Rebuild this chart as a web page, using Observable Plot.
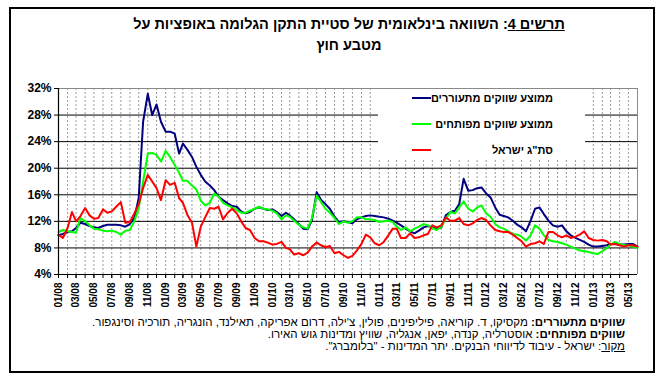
<!DOCTYPE html>
<html><head><meta charset="utf-8">
<script src="https://cdn.jsdelivr.net/npm/d3@7"></script>
<script src="https://cdn.jsdelivr.net/npm/@observablehq/plot@0.6"></script>
<style>
body{margin:0;background:#fff;width:666px;height:392px;position:relative;overflow:hidden;font-family:"Liberation Sans",Arial,"DejaVu Sans",sans-serif;color:#000;}
#frame{position:absolute;left:9px;top:7px;width:642px;height:362px;border:2px solid #000;}
.title{position:absolute;left:0;width:698px;text-align:center;direction:rtl;font-weight:bold;font-size:14.5px;white-space:nowrap;}
#chart{position:absolute;left:0;top:70px;}
#legend{position:absolute;left:378px;top:89px;width:207px;height:70px;background:#fff;}
.lrow{position:absolute;left:0;width:207px;height:16px;}
.ltext{position:absolute;right:32px;top:0;direction:rtl;font-weight:bold;font-size:11px;line-height:16px;white-space:nowrap;}
.lline{position:absolute;left:34px;top:7px;width:19px;height:2px;}
.note{position:absolute;right:41px;direction:rtl;font-size:11.5px;line-height:12px;height:12px;white-space:nowrap;}
</style></head><body>
<div id="frame"></div>
<div class="title" style="top:16px"><u>תרשים 4</u>: השוואה בינלאומית של סטיית התקן הגלומה באופציות על</div>
<div class="title" style="top:37px">מטבע חוץ</div>
<div id="chart"></div>
<div id="legend"></div>
<div class="note" id="n1" style="top:316px"></div>
<div class="note" id="n2" style="top:328px"></div>
<div class="note" id="n3" style="top:340px"></div>
<script>
// semi-monthly observation dates
const dates = [
"2008-01-01","2008-01-16","2008-02-01","2008-02-16","2008-03-01","2008-03-16","2008-04-01","2008-04-16","2008-05-01","2008-05-16","2008-06-01","2008-06-16","2008-07-01","2008-07-16","2008-08-01","2008-08-16","2008-09-01","2008-09-16","2008-10-01","2008-10-16","2008-11-01","2008-11-16","2008-12-01","2008-12-16",
"2009-01-01","2009-01-16","2009-02-01","2009-02-16","2009-03-01","2009-03-16","2009-04-01","2009-04-16","2009-05-01","2009-05-16","2009-06-01","2009-06-16","2009-07-01","2009-07-16","2009-08-01","2009-08-16","2009-09-01","2009-09-16","2009-10-01","2009-10-16","2009-11-01","2009-11-16","2009-12-01","2009-12-16",
"2010-01-01","2010-01-16","2010-02-01","2010-02-16","2010-03-01","2010-03-16","2010-04-01","2010-04-16","2010-05-01","2010-05-16","2010-06-01","2010-06-16","2010-07-01","2010-07-16","2010-08-01","2010-08-16","2010-09-01","2010-09-16","2010-10-01","2010-10-16","2010-11-01","2010-11-16","2010-12-01","2010-12-16",
"2011-01-01","2011-01-16","2011-02-01","2011-02-16","2011-03-01","2011-03-16","2011-04-01","2011-04-16","2011-05-01","2011-05-16","2011-06-01","2011-06-16","2011-07-01","2011-07-16","2011-08-01","2011-08-16","2011-09-01","2011-09-16","2011-10-01","2011-10-16","2011-11-01","2011-11-16","2011-12-01","2011-12-16",
"2012-01-01","2012-01-16","2012-02-01","2012-02-16","2012-03-01","2012-03-16","2012-04-01","2012-04-16","2012-05-01","2012-05-16","2012-06-01","2012-06-16","2012-07-01","2012-07-16","2012-08-01","2012-08-16","2012-09-01","2012-09-16","2012-10-01","2012-10-16","2012-11-01","2012-11-16","2012-12-01","2012-12-16",
"2013-01-01","2013-01-16","2013-02-01","2013-02-16","2013-03-01","2013-03-16","2013-04-01","2013-04-16","2013-05-01","2013-05-16","2013-06-01"
];
// ממוצע שווקים מתעוררים
const emerging = [
9.9,10.1,10.4,10.5,11.0,11.8,11.6,11.3,11.1,11.0,
11.3,11.5,11.5,11.5,11.4,11.2,11.6,12.5,15.5,27.0,
31.2,28.0,29.6,27.0,25.5,25.5,25.2,22.2,23.7,22.8,
21.7,20.2,19.0,18.0,17.4,16.7,15.7,15.2,14.7,14.3,
14.2,13.5,13.2,13.4,13.9,14.1,13.9,13.7,13.8,13.4,
12.8,13.3,12.9,12.3,11.6,10.9,10.8,12.2,16.4,15.2,
14.6,13.9,12.7,11.9,12.0,11.9,11.7,12.3,12.6,12.8,
12.9,12.8,12.7,12.6,12.4,12.1,11.8,11.4,10.9,10.5,
10.2,10.6,11.1,11.3,11.1,10.9,11.1,12.9,13.4,13.6,
14.6,18.4,16.6,16.7,17.0,17.1,16.2,15.6,14.1,13.0,
12.8,12.6,12.1,11.5,11.1,10.5,12.1,13.9,14.1,13.1,
12.1,11.4,11.2,11.4,10.5,9.9,9.5,9.2,8.9,8.5,
8.2,8.2,8.3,8.4,8.6,8.6,8.5,8.5,8.6,8.6,8.2
];
// ממוצע שווקים מפותחים
const developed = [
10.4,10.7,10.5,10.4,10.3,12.5,12.0,11.4,10.9,10.8,
10.6,10.5,10.6,10.4,10.0,10.6,10.7,12.0,14.0,18.0,
22.2,22.3,22.0,21.0,22.6,21.7,20.5,19.3,18.1,18.1,
17.4,16.8,15.1,14.4,14.8,16.2,15.7,14.8,14.4,14.1,
13.7,13.3,13.3,13.6,13.9,14.2,13.9,13.8,13.6,13.2,
12.3,12.9,12.7,12.1,11.5,11.1,10.9,12.5,15.9,14.9,
13.9,13.3,12.5,11.6,12.0,11.8,12.0,12.6,12.6,12.3,
12.3,12.2,11.9,12.0,12.1,11.9,11.2,10.7,11.1,10.5,
10.9,11.2,11.6,11.4,11.0,10.7,11.2,12.4,13.4,13.2,
14.1,15.0,13.9,13.5,14.1,14.4,13.2,12.7,11.6,11.1,
10.9,10.5,10.1,10.0,9.7,9.1,9.9,11.4,10.9,9.9,
9.2,9.0,8.9,8.7,8.5,8.2,7.9,7.6,7.5,7.4,
7.2,7.1,7.5,8.0,8.5,8.9,8.6,8.4,8.4,8.2,8.0
];
// סת"ג ישראל
const israel = [
10.0,9.5,11.0,13.4,12.0,12.8,14.0,12.9,12.4,12.5,
13.8,13.3,13.5,14.2,14.9,11.8,11.9,13.2,14.6,17.0,
19.0,18.0,17.0,15.2,18.2,17.5,17.8,15.5,14.8,13.0,
11.8,8.2,11.2,12.6,14.0,13.9,14.2,12.3,13.3,13.9,
13.2,12.0,11.0,10.7,9.5,9.0,9.0,8.8,8.5,8.6,
8.9,8.0,7.8,7.0,7.2,6.9,7.3,8.2,8.8,8.4,
8.1,8.3,7.2,7.4,6.9,6.5,6.8,7.6,8.6,10.0,
9.6,8.7,8.4,8.9,9.9,10.9,10.9,9.5,9.5,10.2,
9.5,9.6,9.9,10.1,11.4,11.1,11.4,12.6,12.1,12.1,
12.5,11.6,11.4,11.7,12.2,12.5,12.2,11.4,10.7,10.5,
10.4,10.4,10.0,9.5,9.0,8.2,8.6,8.7,9.0,8.6,
10.4,10.4,9.9,9.6,9.9,9.5,9.7,10.0,10.5,9.5,
9.2,9.1,9.2,9.0,8.5,8.6,8.4,8.2,8.4,8.4,8.2
];
const seriesNames = ["ממוצע שווקים מתעוררים","ממוצע שווקים מפותחים",'סת"ג ישראל'];
const seriesColors = ["#000080","#00ff00","#ff0000"];
const xTickLabels = ["01/08","03/08","05/08","07/08","09/08","11/08","01/09","03/09","05/09","07/09","09/09","11/09","01/10","03/10","05/10","07/10","09/10","11/10","01/11","03/11","05/11","07/11","09/11","11/11","01/12","03/12","05/12","07/12","09/12","11/12","01/13","03/13","05/13"];
const yTicks = [4,8,12,16,20,24,28,32];
const notes = [
  ["שווקים מתעוררים:"," מקסיקו, ד. קוריאה, פיליפינים, פולין, צ'ילה, דרום אפריקה, תאילנד, הונגריה, תורכיה וסינגפור."],
  ["שווקים מפותחים:"," אוסטרליה, קנדה, יפאן, אנגליה, שוויץ ומדינות גוש האירו."],
  ["מקור",": ישראל - עיבוד לדיווחי הבנקים. יתר המדינות - \"בלומברג\"."]
];

const parseLabel = s => new Date(Date.UTC(2000 + +s.slice(3), +s.slice(0,2) - 1, 1));
const labelDates = xTickLabels.map(parseLabel);
const labelText = new Map(labelDates.map((d,i)=>[+d, xTickLabels[i]]));
const x0 = new Date(dates[0]), x1 = new Date(dates[dates.length-1]);
const months = d3.utcMonth.range(x0, x1);
const rows = dates.map((d,i)=>({date:new Date(d), em:emerging[i], dev:developed[i], isr:israel[i]}));
const keys = ["em","dev","isr"];
const font = '"Liberation Sans",Arial,"DejaVu Sans",sans-serif';

const chart = Plot.plot({
  width: 660, height: 250,
  marginLeft: 58, marginRight: 23, marginTop: 18, marginBottom: 46,
  style: {fontFamily: font, background: "transparent", color: "#000"},
  x: {type: "utc", domain: [x0, x1]},
  y: {domain: [4, 32]},
  marks: [
    Plot.ruleX(months.slice(1), {stroke: "#9a9a9a", strokeDasharray: "2,2", strokeWidth: 1}),
    Plot.ruleY(yTicks.slice(1, -1), {stroke: "#000", strokeWidth: 1}),
    Plot.ruleY([32], {stroke: "#8a8a8a"}),
    Plot.ruleX([x1], {stroke: "#8a8a8a"}),
    ...keys.map((k,i)=>Plot.line(rows, {x: "date", y: k, stroke: seriesColors[i], strokeWidth: 2, strokeLinejoin: "round"})),
    Plot.ruleY([4], {stroke: "#000", strokeWidth: 1.2}),
    Plot.ruleX([x0], {stroke: "#000", strokeWidth: 1.2}),
    Plot.axisX(months, {tickSize: 4, tickFormat: () => "", stroke: "#000"}),
    Plot.axisX(labelDates, {tickSize: 4, tickPadding: 4, tickRotate: -90, tickFormat: d => labelText.get(+d), fontWeight: "bold", fontSize: 10}),
    Plot.axisY(yTicks, {tickSize: 4, tickPadding: 3, tickFormat: d => d + "%", fontWeight: "bold", fontSize: 12})
  ]
});
document.getElementById("chart").appendChild(chart);

const legend = document.getElementById("legend");
seriesNames.forEach((name,i)=>{
  const r = document.createElement("div");
  r.className = "lrow";
  r.style.top = (i*26 + 1) + "px";
  r.innerHTML = `<div class="lline" style="background:${seriesColors[i]}"></div><span class="ltext"></span>`;
  r.querySelector(".ltext").textContent = name;
  legend.appendChild(r);
});

notes.forEach((n,i)=>{
  const el = document.getElementById("n"+(i+1));
  if (i < 2) { el.innerHTML = `<b></b><span></span>`; el.querySelector("b").textContent = n[0]; }
  else { el.innerHTML = `<u></u><span></span>`; el.querySelector("u").textContent = n[0]; }
  el.querySelector("span").textContent = n[1];
});
</script>
</body></html>
